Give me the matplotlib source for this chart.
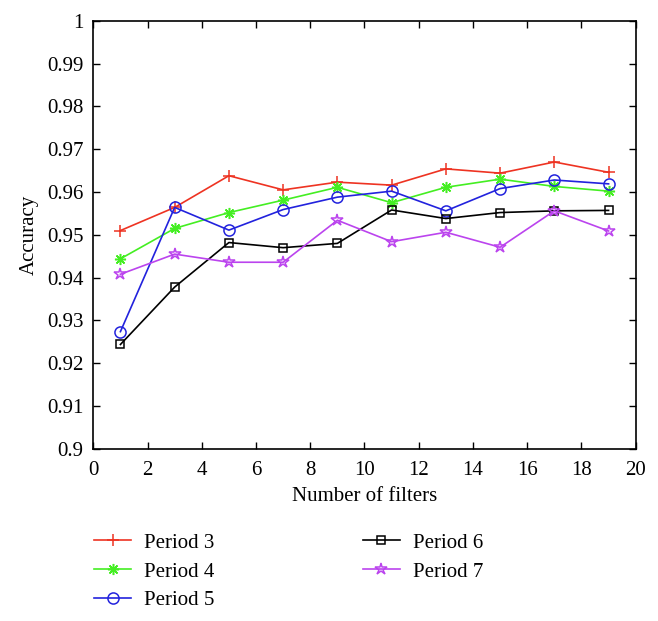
import matplotlib
matplotlib.use("Agg")
from matplotlib import pyplot as plt

filters = [1, 3, 5, 7, 9, 11, 13, 15, 17, 19]
period3 = [0.9510, 0.9564, 0.9638, 0.9605, 0.9623, 0.9616, 0.9654, 0.9644, 0.9670, 0.9646]
period4 = [0.9444, 0.9515, 0.9552, 0.9581, 0.9611, 0.9575, 0.9611, 0.9630, 0.9613, 0.9602]
period5 = [0.9274, 0.9564, 0.9511, 0.9559, 0.9588, 0.9602, 0.9556, 0.9608, 0.9628, 0.9619]
period6 = [0.9244, 0.9378, 0.9482, 0.9470, 0.9480, 0.9558, 0.9538, 0.9552, 0.9556, 0.9557]
period7 = [0.9408, 0.9455, 0.9436, 0.9436, 0.9534, 0.9484, 0.9506, 0.9471, 0.9556, 0.9509]

plt.rcParams["font.family"] = ["Liberation Serif", "DejaVu Serif"]
plt.rcParams["font.size"] = 15

fig = plt.figure(figsize=(6.58, 6.21), dpi=100)
ax = fig.add_axes([0.1418, 0.2770, 0.8243, 0.6897])

series = [
    ("Period 3", period3, "#ee3322", dict(marker="+", markersize=9)),
    ("Period 4", period4, "#44ee22", dict(marker=(8, 2, 0), markersize=8)),
    ("Period 5", period5, "#2222dd", dict(marker="o", markersize=8, markerfacecolor="none")),
    ("Period 6", period6, "black", dict(marker="s", markersize=5.5, markerfacecolor="none")),
    ("Period 7", period7, "#bb44ee", dict(marker="*", markersize=9, markerfacecolor="none")),
]
for label, values, color, style in series:
    ax.plot(filters, values, color=color, linewidth=1.2, markeredgewidth=1.1,
            label=label, **style)

ax.set_xlim(0, 20)
ax.set_ylim(0.9, 1.0)
ax.set_xticks(range(0, 21, 2))
ax.set_yticks([0.9 + 0.01 * i for i in range(11)])
ax.set_yticklabels(["0.9", "0.91", "0.92", "0.93", "0.94", "0.95",
                    "0.96", "0.97", "0.98", "0.99", "1"])
ax.tick_params(direction="in", top=True, right=True, length=5, width=1)
ax.tick_params(axis="y", pad=7)
ax.tick_params(axis="x", pad=9)
for spine in ax.spines.values():
    spine.set_linewidth(1.2)
ax.set_xlabel("Number of filters", labelpad=5)
ax.set_ylabel("Accuracy", labelpad=6)

fig.legend(loc="upper left", bbox_to_anchor=(0.127, 0.1585), ncol=2,
           frameon=False, handlelength=1.8, handletextpad=0.62,
           columnspacing=7.1, labelspacing=0.45, borderpad=0)

fig.savefig("out.png", dpi=100)
